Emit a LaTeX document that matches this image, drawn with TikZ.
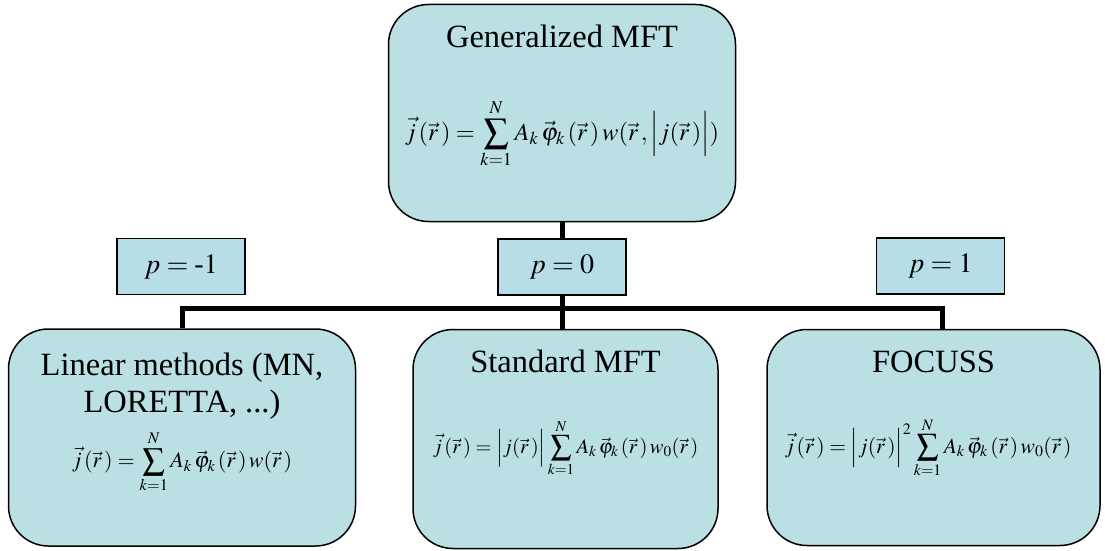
\documentclass[tikz,border=0pt]{standalone}
\usepackage{mathptmx}
\usepackage[no-math]{fontspec}
\setmainfont{Liberation Serif}
\definecolor{boxfill}{RGB}{186,224,228}
\definecolor{pfill}{RGB}{183,222,232}
\tikzset{
  bigbox/.style={draw=black, line width=1.5pt, fill=boxfill, rounded corners=40pt, inner sep=0pt},
  pbox/.style={draw=black, line width=1.2pt, fill=pfill, inner sep=0pt, minimum width=128pt, minimum height=56pt},
  title/.style={font=\fontsize{32.5}{37}\selectfont, align=center, anchor=base, inner sep=0pt},
  bigmath/.style={font=\fontsize{24.5}{28}\selectfont, inner sep=0pt},
  smallmath/.style={font=\fontsize{20.5}{24}\selectfont, inner sep=0pt},
  plabel/.style={font=\fontsize{28}{32}\selectfont, inner sep=0pt},
  conn/.style={line width=5pt, draw=black}
}
\begin{document}
\begin{tikzpicture}[x=1pt,y=-1pt]
\useasboundingbox (0,0) rectangle (1105,551);
% boxes
\node[bigbox, minimum width=347pt, minimum height=217pt] (top) at (562,113) {};
\node[bigbox, minimum width=347pt, minimum height=217pt] (left) at (182,437.5) {};
\node[bigbox, minimum width=305pt, minimum height=219pt] (mid) at (565.5,439) {};
\node[bigbox, minimum width=333pt, minimum height=216pt] (right) at (933.5,437.5) {};
\node[pbox] (pm) at (181,266.5) {};
\node[pbox] (pz) at (562,267) {};
\node[pbox] (pp) at (940.5,266) {};
% connectors
\coordinate (rtop) at ([xshift=9pt]right.north);
\draw[conn] (top.south) -- (pz.north);
\draw[conn] (pz.south) -- (pz.south |- mid.north);
\draw[conn] (left.north) -- ++(0,-20) -| (rtop);
% texts
\node[title] (ttop) at (562,48) {Generalized MFT};
\node[bigmath] (ftop) at (562,134) {$\displaystyle \vec{j}\,(\vec{r}\,) = \sum_{k=1}^{N} A_k\, \vec{\varphi}_k\,(\vec{r}\,)\, w(\vec{r}\,,\Bigl|j(\vec{r}\,)\Bigr|)$};
\node[title] (tleft) at (182,412) {Linear methods (MN,\\LORETTA, ...)};
\node[smallmath, font=\fontsize{22}{26}\selectfont] (fleft) at (182,462) {$\displaystyle \vec{j}\,(\vec{r}\,) = \sum_{k=1}^{N} A_k\, \vec{\varphi}_k\,(\vec{r}\,)\, w(\vec{r}\,)$};
\node[title] (tmid) at (565.5,372) {Standard MFT};
\node[smallmath] (fmid) at (565.5,448) {$\displaystyle \vec{j}\,(\vec{r}\,) = \Bigl|j(\vec{r}\,)\Bigr|\sum_{k=1}^{N} A_k\, \vec{\varphi}_k\,(\vec{r}\,)\, w_0(\vec{r}\,)$};
\node[title] (tright) at (933.5,372) {FOCUSS};
\node[smallmath, font=\fontsize{21.5}{25}\selectfont] (fright) at (928,448) {$\displaystyle \vec{j}\,(\vec{r}\,) = \Bigl|j(\vec{r}\,)\Bigr|^2\sum_{k=1}^{N} A_k\, \vec{\varphi}_k\,(\vec{r}\,)\, w_0(\vec{r}\,)$};
\node[plabel] (lpm) at (pm) {$p = \mbox{-}1$};
\node[plabel] (lpz) at (pz) {$p = 0$};
\node[plabel] (lpp) at (pp) {$p = 1$};
\end{tikzpicture}
\end{document}
